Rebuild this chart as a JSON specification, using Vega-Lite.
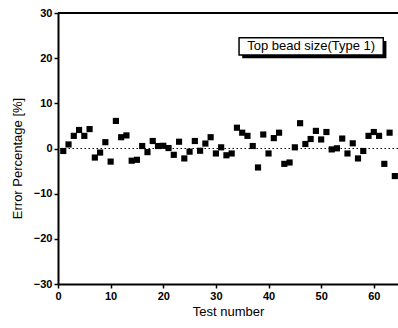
{
  "$schema": "https://vega.github.io/schema/vega-lite/v6.json",
  "width": 340,
  "height": 271,
  "autosize": "none",
  "padding": {"left": 58, "top": 13, "right": 0, "bottom": 44},
  "background": "white",
  "config": {
    "view": {"stroke": null},
    "font": "Liberation Sans",
    "axis": {
      "domainColor": "black", "domainWidth": 2, "tickColor": "black", "tickWidth": 1.5,
      "labelColor": "black", "labelFont": "Liberation Sans", "labelFontWeight": "bold", "labelFontSize": 11,
      "titleColor": "black", "titleFont": "Liberation Sans", "titleFontWeight": "normal", "titleFontSize": 13,
      "grid": false
    }
  },
  "layer": [
    {
      "data": {"values": [{"v": 0}]},
      "mark": {"type": "rule", "color": "black", "strokeWidth": 1.2, "strokeDash": [1.5, 2.5]},
      "encoding": {"y": {"field": "v", "type": "quantitative"}}
    },
    {
      "data": {"values": [{"v": 30}]},
      "mark": {"type": "rule", "color": "black", "strokeWidth": 2},
      "encoding": {"y": {"field": "v", "type": "quantitative"}}
    },
    {
      "data": {
        "values": [
          {"test": 1, "err": -0.55}, {"test": 2, "err": 0.9}, {"test": 3, "err": 2.8}, {"test": 4, "err": 4.1},
          {"test": 5, "err": 2.8}, {"test": 6, "err": 4.3}, {"test": 7, "err": -2.0}, {"test": 8, "err": -0.9},
          {"test": 9, "err": 1.4}, {"test": 10, "err": -2.9}, {"test": 11, "err": 6.1}, {"test": 12, "err": 2.5},
          {"test": 13, "err": 2.9}, {"test": 14, "err": -2.7}, {"test": 15, "err": -2.5}, {"test": 16, "err": 0.55},
          {"test": 17, "err": -0.8}, {"test": 18, "err": 1.66}, {"test": 19, "err": 0.55}, {"test": 20, "err": 0.6},
          {"test": 21, "err": 0.1}, {"test": 22, "err": -1.4}, {"test": 23, "err": 1.5}, {"test": 24, "err": -2.2},
          {"test": 25, "err": -0.7}, {"test": 26, "err": 1.66}, {"test": 27, "err": -0.5}, {"test": 28, "err": 1.1},
          {"test": 29, "err": 2.5}, {"test": 30, "err": -1.1}, {"test": 31, "err": 0.26}, {"test": 32, "err": -1.5},
          {"test": 33, "err": -1.1}, {"test": 34, "err": 4.6}, {"test": 35, "err": 3.5}, {"test": 36, "err": 2.8},
          {"test": 37, "err": 0.55}, {"test": 38, "err": -4.2}, {"test": 39, "err": 3.1}, {"test": 40, "err": -1.1},
          {"test": 41, "err": 2.3}, {"test": 42, "err": 3.5}, {"test": 43, "err": -3.4}, {"test": 44, "err": -3.1},
          {"test": 45, "err": 0.26}, {"test": 46, "err": 5.6}, {"test": 47, "err": 1.0}, {"test": 48, "err": 2.1},
          {"test": 49, "err": 3.9}, {"test": 50, "err": 2.0}, {"test": 51, "err": 3.65}, {"test": 52, "err": -0.2},
          {"test": 53, "err": 0.04}, {"test": 54, "err": 2.2}, {"test": 55, "err": -1.1}, {"test": 56, "err": 1.15},
          {"test": 57, "err": -2.2}, {"test": 58, "err": -0.55}, {"test": 59, "err": 2.8}, {"test": 60, "err": 3.65},
          {"test": 61, "err": 2.8}, {"test": 62, "err": -3.4}, {"test": 63, "err": 3.5}, {"test": 64, "err": -6.1}
        ]
      },
      "mark": {"type": "point", "shape": "square", "filled": true, "size": 38, "opacity": 1, "color": "black"},
      "encoding": {
        "x": {
          "field": "test", "type": "quantitative", "title": "Test number",
          "scale": {"domain": [0, 64.6], "nice": false, "zero": false},
          "axis": {
            "values": [0, 5, 10, 15, 20, 25, 30, 35, 40, 45, 50, 55, 60],
            "labelExpr": "datum.value % 10 === 0 ? datum.label : ''",
            "tickSize": {"condition": {"test": "datum.value % 10 === 0", "value": 4}, "value": 2},
            "labelPadding": 2, "titlePadding": 4, "labelFlush": false
          }
        },
        "y": {
          "field": "err", "type": "quantitative", "title": "Error Percentage [%]",
          "scale": {"domain": [-30, 30], "nice": false},
          "axis": {
            "values": [-30, -25, -20, -15, -10, -5, 0, 5, 10, 15, 20, 25, 30],
            "labelExpr": "datum.value % 10 === 0 ? datum.label : ''",
            "tickSize": {"condition": {"test": "datum.value % 10 === 0", "value": 4}, "value": 2},
            "labelPadding": 2, "titlePadding": 9, "titleY": 145, "labelFlush": false
          }
        }
      }
    },
    {
      "data": {"values": [{"x1": 35.0, "x2": 62.4, "y1": 23.8, "y2": 20.0}]},
      "mark": {"type": "rect", "fill": "black"},
      "encoding": {
        "x": {"field": "x1", "type": "quantitative"}, "x2": {"field": "x2"},
        "y": {"field": "y1", "type": "quantitative"}, "y2": {"field": "y2"}
      }
    },
    {
      "data": {"values": [{"x1": 34.4, "x2": 61.8, "y1": 24.5, "y2": 20.7}]},
      "mark": {"type": "rect", "fill": "white", "stroke": "black", "strokeWidth": 1.5},
      "encoding": {
        "x": {"field": "x1", "type": "quantitative"}, "x2": {"field": "x2"},
        "y": {"field": "y1", "type": "quantitative"}, "y2": {"field": "y2"}
      }
    },
    {
      "data": {"values": [{"x": 48.1, "y": 22.6, "label": "Top bead size(Type 1)"}]},
      "mark": {"type": "text", "align": "center", "baseline": "middle", "fontSize": 13, "font": "Liberation Sans", "color": "black"},
      "encoding": {
        "x": {"field": "x", "type": "quantitative"},
        "y": {"field": "y", "type": "quantitative"},
        "text": {"field": "label"}
      }
    }
  ]
}
